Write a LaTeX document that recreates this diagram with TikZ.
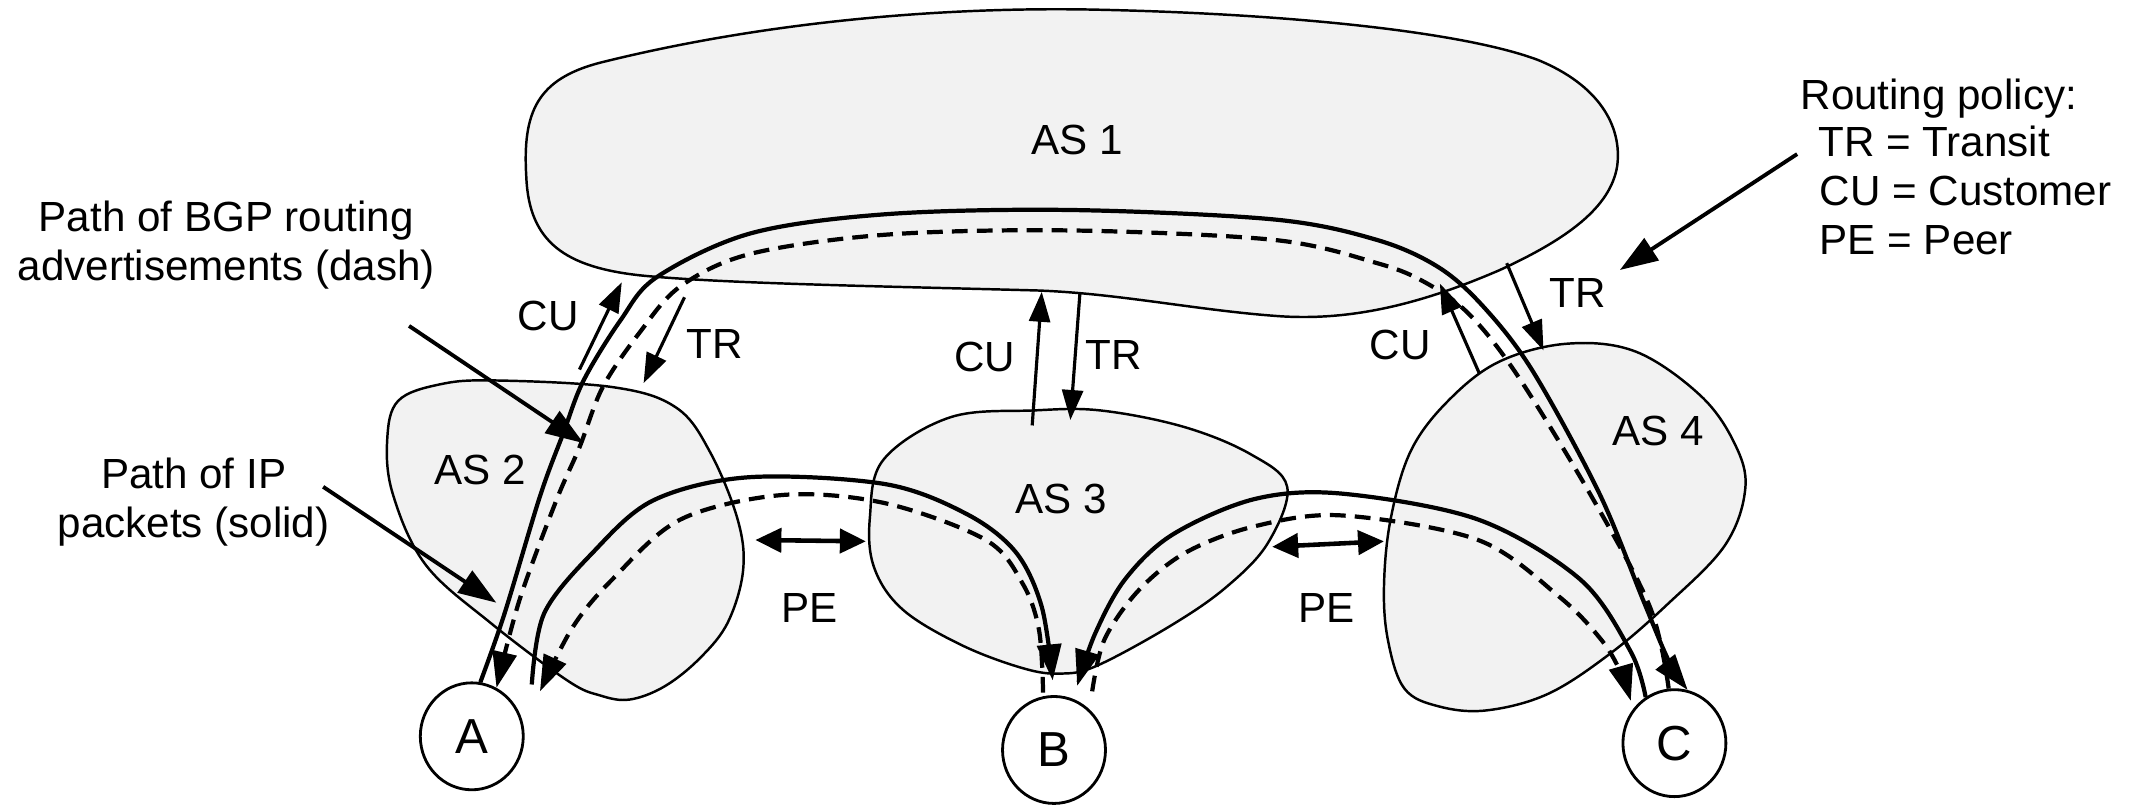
\documentclass[tikz,border=0pt]{standalone}
\usepackage{fontspec}
\setmainfont{Liberation Sans}
\usetikzlibrary{arrows.meta,shapes.geometric}
\definecolor{asfill}{RGB}{242,242,242}
\begin{document}
\begin{tikzpicture}[x=0.013635cm,y=-0.013635cm,
  blob/.style={draw=black,line width=0.7pt,fill=asfill},
  ip/.style={line width=1.2pt},
  bgp/.style={line width=1.2pt,dash pattern=on 4.5pt off 2.6pt},
  tipend/.style={-{Triangle[length=3.6mm,width=2.4mm]}},
  rel/.style={line width=0.9pt,-{Triangle[length=3mm,width=2.1mm]}},
  pe/.style={line width=1.3pt,{Triangle[length=2.6mm,width=2.4mm]}-{Triangle[length=2.6mm,width=2.4mm]}},
  ptr/.style={line width=1.1pt,-{Triangle[length=3.8mm,width=2.6mm]}},
  lbl/.style={font=\fontsize{12}{13.9}\selectfont,inner sep=0pt},
  host/.style={draw,ellipse,line width=0.8pt,minimum width=1.03cm,minimum height=1.07cm,inner sep=0pt,fill=white,font=\fontsize{14}{16}\selectfont}
]
\useasboundingbox (0,0) rectangle (1568,590);

% autonomous systems
\path[blob] (386,130)
 .. controls (383,82) and (394,58) .. (440,46)
 .. controls (560,16) and (690,5) .. (800,7)
 .. controls (950,10) and (1075,24) .. (1128,44)
 .. controls (1172,62) and (1190,92) .. (1186,122)
 .. controls (1181,152) and (1150,175) .. (1100,198)
 .. controls (1040,224) and (990,235) .. (940,232)
 .. controls (880,228) and (820,215) .. (760,213)
 .. controls (650,210) and (530,208) .. (470,202)
 .. controls (415,196) and (388,178) .. (386,130) -- cycle;
\path[blob] plot[smooth cycle,tension=0.6] coordinates {
 (284,322) (292,294) (322,282) (362,279) (450,284) (496,299) (521,332)
 (541,381) (545,418) (534,456) (514,482) (488,503) (462,513) (440,510)
 (416,499) (360,457) (312,414) (288,362)};
\path[blob] plot[smooth cycle,tension=0.6] coordinates {
 (648,337) (697,306) (758,301) (807,301) (868,313) (917,333) (944,357)
 (930,398) (900,430) (860,458) (805,488) (778,494) (750,490) (705,473)
 (662,447) (641,416) (638,379)};
\path[blob] plot[smooth cycle,tension=0.6] coordinates {
 (1063,293) (1100,265) (1150,252) (1200,258) (1247,290) (1272,325)
 (1280,358) (1265,400) (1222,444) (1180,480) (1135,509) (1090,521)
 (1055,518) (1030,505) (1018,470) (1015,430) (1020,380) (1035,330)};

% hosts
\node[host] (A) at (346,540) {A};
\node[host] (B) at (773,550) {B};
\node[host] (C) at (1228,545) {C};

% AS labels
\node[lbl] (as1) at (790,103) {AS 1};
\node[lbl] (as2) at (352,345) {AS 2};
\node[lbl] (as3) at (778,366) {AS 3};
\node[lbl] (as4) at (1216,316) {AS 4};

% free ends of the paths
\coordinate (s2a) at (390,502);
\coordinate (s2b) at (772,499);
\coordinate (d2b) at (765,508);
\coordinate (d2a) at (396,507);
\coordinate (s3b) at (790,503);
\coordinate (d3b) at (801,507);
\coordinate (d3c) at (1196,514);

% path A -> AS2 -> AS1 -> AS4 -> C
\draw[ip,tipend] plot[smooth,tension=0.55] coordinates {
 (A.81) (370,450) (396,364) (413,318) (428,279) (455,235) (482,203) (551,171)
 (651,157) (785,154) (935,161) (1010,176) (1055,196) (1088,225) (1124,272)
 (1173,362) (1205,440) (1224,485) (C.76)};
\draw[bgp,tipend] plot[smooth,tension=0.55] coordinates {
 (C.96) (1210,445) (1166,362) (1112,274) (1077,230) (1045,207) (1010,193)
 (935,176) (785,169) (651,172) (551,186) (499,210) (469,244) (442,284)
 (425,328) (408,367) (381,440) (A.63)};

% path A <-> B over AS2/AS3
\draw[ip,tipend] plot[smooth,tension=0.55] coordinates {
 (s2a) (399,450) (434,406) (479,367) (549,350) (649,355) (709,377) (745,405)
 (764,445) (s2b)};
\draw[bgp,tipend] plot[smooth,tension=0.55] coordinates {
 (d2b) (762,462) (750,428) (723,396) (649,369) (574,363) (499,381) (449,425)
 (420,460) (d2a)};

% path B <-> C over AS3/AS4
\draw[ip,tipend] plot[smooth,tension=0.55] coordinates {
 (C.122) (1196,478) (1159,425) (1084,381) (984,362) (920,366) (860,392)
 (825,425) (803,465) (s3b)};
\draw[bgp,tipend] plot[smooth,tension=0.55] coordinates {
 (d3b) (810,469) (835,433) (870,405) (920,386) (984,378) (1084,396)
 (1144,438) (1175,470) (1189,494) (d3c)};

% customer / transit relations
\coordinate (cuL0) at (425,271); \coordinate (cuL1) at (456,207);
\coordinate (trL0) at (502,218); \coordinate (trL1) at (472,281);
\coordinate (cuM0) at (757,312); \coordinate (cuM1) at (764,214);
\coordinate (trM0) at (792,215); \coordinate (trM1) at (785,308);
\coordinate (cuR0) at (1085,274); \coordinate (cuR1) at (1056,208);
\coordinate (trR0) at (1105,193); \coordinate (trR1) at (1132,257);
\draw[rel] (cuL0) -- (cuL1);
\draw[rel] (trL0) -- (trL1);
\draw[rel] (cuM0) -- (cuM1);
\draw[rel] (trM0) -- (trM1);
\draw[rel] (cuR0) -- (cuR1);
\draw[rel] (trR0) -- (trR1);
\node[lbl] (lcu1) at (402,232) {CU};
\node[lbl] (ltr1) at (524,252) {TR};
\node[lbl] (lcu2) at (722,262) {CU};
\node[lbl] (ltr2) at (817,260) {TR};
\node[lbl] (lcu3) at (1027,253) {CU};
\node[lbl] (ltr3) at (1157,215) {TR};

% peering
\coordinate (pe1a) at (554,396); \coordinate (pe1b) at (635,397);
\coordinate (pe2a) at (933,401); \coordinate (pe2b) at (1015,397);
\draw[pe] (pe1a) -- (pe1b);
\draw[pe] (pe2a) -- (pe2b);
\node[lbl] (lpe1) at (594,446) {PE};
\node[lbl] (lpe2) at (973,446) {PE};

% explanatory texts
\node[lbl,align=center] (bgptxt) at (166,180) {Path of BGP routing\\advertisements (dash)};
\node[lbl,align=center] (iptxt) at (142,368) {Path of IP\\packets (solid)};
\node[lbl,anchor=base west] (rp0) at (1320,80) {Routing policy:};
\node[lbl,anchor=base west] (rp1) at (1333,115) {TR = Transit};
\node[lbl,anchor=base west] (rp2) at (1334,151) {CU = Customer};
\node[lbl,anchor=base west] (rp3) at (1334,187) {PE = Peer};

\coordinate (pb0) at (300,239); \coordinate (pb1) at (428,325);
\coordinate (pi0) at (237,357); \coordinate (pi1) at (364,442);
\coordinate (pr0) at (1318,113); \coordinate (pr1) at (1188,198);
\draw[ptr] (pb0) -- (pb1);
\draw[ptr] (pi0) -- (pi1);
\draw[ptr] (pr0) -- (pr1);
\end{tikzpicture}
\end{document}
